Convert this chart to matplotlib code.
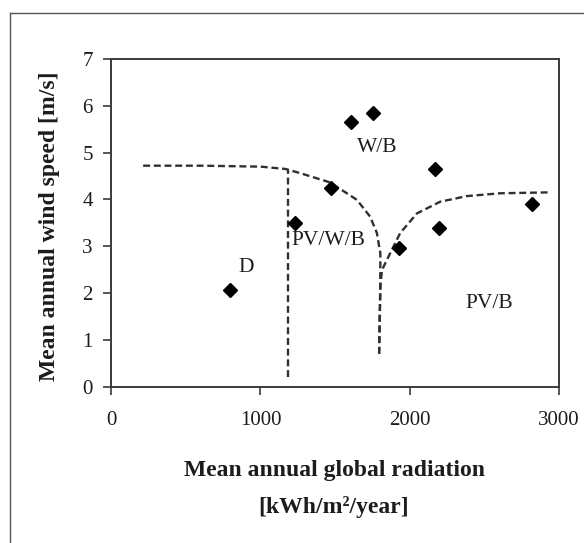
import matplotlib
matplotlib.use("Agg")
import matplotlib.pyplot as plt
from matplotlib.lines import Line2D

# measured sites: mean annual global radiation vs mean annual wind speed
radiation = [798, 1233, 1474, 1608, 1754, 1930, 2171, 2199, 2818]
wind_speed = [2.07, 3.50, 4.24, 5.66, 5.84, 2.96, 4.65, 3.38, 3.90]

# dashed region boundaries
bound1_x = [214, 600, 1000, 1167, 1267, 1468, 1646, 1735, 1780, 1803, 1803, 1800, 1795]
bound1_y = [4.72, 4.72, 4.70, 4.65, 4.56, 4.36, 3.99, 3.63, 3.28, 2.85, 2.42, 1.50, 0.70]
bound2_x = [1795, 1798, 1805, 1814, 1869, 1936, 2048, 2204, 2383, 2605, 2940]
bound2_y = [0.70, 1.50, 2.20, 2.49, 2.85, 3.28, 3.70, 3.95, 4.07, 4.13, 4.15]
divider_x = [1185, 1185]
divider_y = [0.20, 4.63]

# region labels
region_names = ["W/B", "PV/W/B", "D", "PV/B"]
region_x = [1785, 1457, 903, 2530]
region_y = [5.11, 3.12, 2.54, 1.78]

x_ticks = [0, 1000, 2000, 3000]
y_ticks = [0, 1, 2, 3, 4, 5, 6, 7]

plt.rcParams["font.family"] = ["Liberation Serif", "DejaVu Serif"]
plt.rcParams["lines.scale_dashes"] = False
ink = "#1c1c1c"
line_col = "#303030"

fig = plt.figure(figsize=(5.84, 5.43), dpi=100)
ax = fig.add_axes([0.1904, 0.2882, 0.7668, 0.6031])

dash = (5, 2.7)
ax.plot(bound1_x, bound1_y, color=line_col, lw=1.7, dashes=dash)
ax.plot(bound2_x, bound2_y, color=line_col, lw=1.7, dashes=dash)
ax.plot(divider_x, divider_y, color=line_col, lw=1.7, dashes=dash)

ax.plot(radiation, wind_speed, linestyle="none", marker="D", markersize=7,
        color="black")

for name, x, y in zip(region_names, region_x, region_y):
    ax.text(x, y, name, fontsize=15.5, color=ink, ha="center", va="center")

ax.set_xlim(0, 3000)
ax.set_ylim(0, 7)
ax.set_xticks(x_ticks)
ax.set_yticks(y_ticks)
ax.tick_params(axis="both", direction="out", length=5.8, width=1.2,
               colors="#3a3a3a", labelcolor=ink, labelsize=15)
ax.tick_params(axis="x", pad=11.5)
ax.tick_params(axis="y", pad=7.5)
for sp in ax.spines.values():
    sp.set_color("#3a3a3a")
    sp.set_linewidth(1.4)

# axis titles
fig.text(50 / 584, 1 - 226 / 543, "Mean annual wind speed [m/s]", rotation=90,
         fontsize=17, fontweight="bold", color=ink, ha="center", va="center")
fig.text(334.5 / 584, 1 - 476 / 543, "Mean annual global radiation",
         fontsize=17, fontweight="bold", color=ink, ha="center", va="baseline")
fig.text(334 / 584, 1 - 513.5 / 543, "[kWh/m\u00b2/year]",
         fontsize=17, fontweight="bold", color=ink, ha="center", va="baseline")

# frame around the figure (top and left edges visible)
fig.add_artist(Line2D([9.5 / 584, 1.0], [1 - 12.5 / 543, 1 - 12.5 / 543],
                      transform=fig.transFigure, color="#555555", lw=1.0))
fig.add_artist(Line2D([9.5 / 584, 9.5 / 584], [0.0, 1 - 12.5 / 543],
                      transform=fig.transFigure, color="#555555", lw=1.0))

fig.savefig("out.png", dpi=100)
